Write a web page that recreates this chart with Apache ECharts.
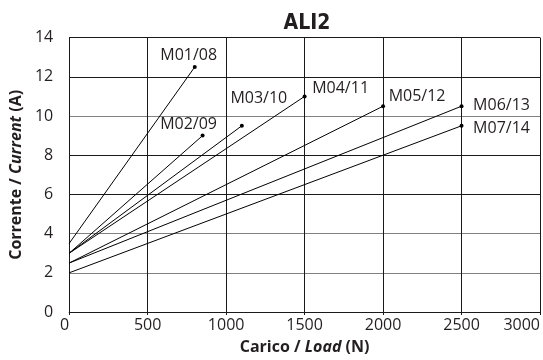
<!DOCTYPE html>
<html>
<head>
<meta charset="utf-8">
<script src="https://cdn.jsdelivr.net/npm/echarts@6/dist/echarts.min.js"></script>
<style>
html,body{margin:0;padding:0;background:#fff;}
#chart{width:543px;height:360px;}
</style>
</head>
<body>
<div id="chart"></div>
<script>
// ---- data ----
const seriesNames = ['M01/08', 'M02/09', 'M03/10', 'M04/11', 'M05/12', 'M06/13', 'M07/14'];
const startLoad = [0, 0, 0, 0, 0, 0, 0];
const startCurrent = [3.5, 3, 3, 3, 2.5, 2.5, 2];
const endLoad = [800, 850, 1100, 1500, 2000, 2500, 2500];
const endCurrent = [12.5, 9, 9.5, 11, 10.5, 10.5, 9.5];
const xTicks = [0, 500, 1000, 1500, 2000, 2500, 3000];
const yTicks = [0, 2, 4, 6, 8, 10, 12, 14];

// ---- styling (label placement relative to end point, in px) ----
const labelOffsets = [[-6, -12], [-14, -11], [17, -27], [36, -8], [34, -10], [40, -1], [40, 3]];

const FONT = '"Open Sans", "Noto Sans", sans-serif';
const TXT = '#231f20';

const series = seriesNames.map((name, i) => ({
  name: name,
  type: 'line',
  symbol: 'circle',
  symbolSize: 4,
  showSymbol: true,
  itemStyle: { color: '#000' },
  lineStyle: { color: '#000', width: 1 },
  emphasis: { disabled: true },
  animation: false,
  z: 5,
  data: [
    { value: [startLoad[i], startCurrent[i]], symbol: 'none' },
    {
      value: [endLoad[i], endCurrent[i]],
      label: {
        show: true,
        formatter: name,
        position: 'inside',
        align: 'center',
        verticalAlign: 'middle',
        offset: labelOffsets[i],
        fontFamily: FONT,
        fontSize: 16,
        color: TXT
      }
    }
  ]
}));

// split line colours per tick (0..14): 2, 4, 10 are gray
const splitColors = yTicks.map(v => (v === 2 || v === 4 || v === 10) ? '#808080' : '#1a1a1a');

const chart = echarts.init(document.getElementById('chart'), null, { renderer: 'canvas' });
chart.setOption({
  backgroundColor: '#fff',
  animation: false,
  title: {
    text: 'ALI2',
    left: 302,
    top: 8,
    textAlign: 'center',
    textStyle: {
      fontFamily: '"Liberation Sans Narrow", "DejaVu Sans Condensed", sans-serif',
      fontWeight: 'bold',
      fontSize: 21,
      color: TXT
    }
  },
  grid: { left: 65, right: 3, top: 37.6, bottom: 47.3 },
  xAxis: {
    type: 'value',
    min: xTicks[0],
    max: xTicks[xTicks.length - 1],
    interval: xTicks[1] - xTicks[0],
    name: '{b|Carico / }{bi|Load}{b| (N)}',
    nameLocation: 'middle',
    nameGap: 27,
    nameTextStyle: {
      rich: {
        b: { fontFamily: FONT, fontWeight: 'bold', fontSize: 16, color: TXT },
        bi: { fontFamily: FONT, fontWeight: 'bold', fontStyle: 'italic', fontSize: 16, color: TXT }
      }
    },
    axisLine: { show: true, lineStyle: { color: '#1a1a1a', width: 1 } },
    axisTick: { show: true, length: 3, lineStyle: { color: '#1a1a1a' } },
    axisLabel: {
      fontFamily: FONT, fontSize: 16, color: TXT, margin: 5,
      alignMinLabel: 'right', alignMaxLabel: 'right',
      formatter: v => String(v)
    },
    splitLine: { show: true, lineStyle: { color: '#1a1a1a', width: 1 } }
  },
  yAxis: {
    type: 'value',
    min: yTicks[0],
    max: yTicks[yTicks.length - 1],
    interval: yTicks[1] - yTicks[0],
    name: '{b|Corrente / }{bi|Current}{b| (A)}',
    nameLocation: 'middle',
    nameGap: 40,
    nameTextStyle: {
      rich: {
        b: { fontFamily: FONT, fontWeight: 'bold', fontSize: 16, color: TXT },
        bi: { fontFamily: FONT, fontWeight: 'bold', fontStyle: 'italic', fontSize: 16, color: TXT }
      }
    },
    axisLine: { show: true, lineStyle: { color: '#1a1a1a', width: 1 } },
    axisTick: { show: false },
    axisLabel: { fontFamily: FONT, fontSize: 16, color: TXT, margin: 16, formatter: v => String(v) },
    splitLine: { show: true, lineStyle: { color: splitColors, width: 1 } }
  },
  series: series
});
</script>
</body>
</html>
